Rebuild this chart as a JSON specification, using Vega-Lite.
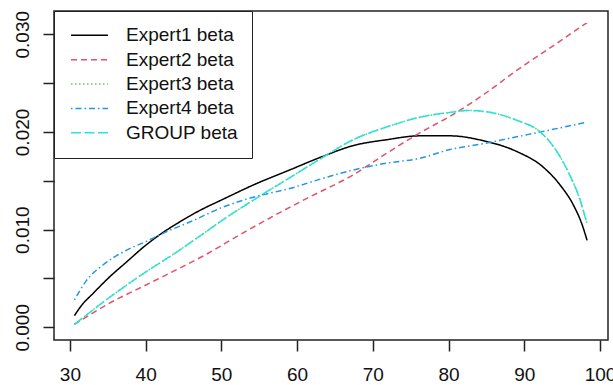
{
  "$schema": "https://vega.github.io/schema/vega-lite/v6.json",
  "width": 554,
  "height": 329,
  "autosize": {"type": "none"},
  "padding": {"left": 54, "top": 11, "right": 5, "bottom": 45},
  "background": "white",
  "config": {
    "view": {"stroke": "#222", "strokeWidth": 1.5},
    "font": "Liberation Sans",
    "axis": {"grid": false, "domain": false, "tickSize": 11, "tickColor": "#222", "tickWidth": 1.5, "labelFont": "Liberation Sans", "labelFontSize": 19, "labelColor": "#111", "title": null},
    "legend": {
      "orient": "none", "legendX": 0, "legendY": 0,
      "fillColor": "white", "strokeColor": "#222", "padding": 14,
      "symbolType": "stroke", "symbolSize": 1369, "symbolStrokeWidth": 1.5, "symbolOffset": 2,
      "clipHeight": 20.5, "rowPadding": 3.4,
      "labelFont": "Liberation Sans", "labelFontSize": 19, "labelColor": "#111",
      "labelOffset": 17, "labelLimit": 300
    }
  },
  "data": {"values": [
    {"series": "Expert1 beta", "x": 30.6, "y": 0.0012},
    {"series": "Expert1 beta", "x": 31.5, "y": 0.0022},
    {"series": "Expert1 beta", "x": 33.1, "y": 0.0035},
    {"series": "Expert1 beta", "x": 35.3, "y": 0.0052},
    {"series": "Expert1 beta", "x": 37.5, "y": 0.0067},
    {"series": "Expert1 beta", "x": 39.7, "y": 0.0082},
    {"series": "Expert1 beta", "x": 41.9, "y": 0.0095},
    {"series": "Expert1 beta", "x": 44.1, "y": 0.0106},
    {"series": "Expert1 beta", "x": 47.0, "y": 0.0119},
    {"series": "Expert1 beta", "x": 50.2, "y": 0.0131},
    {"series": "Expert1 beta", "x": 54.6, "y": 0.0147},
    {"series": "Expert1 beta", "x": 59.0, "y": 0.0161},
    {"series": "Expert1 beta", "x": 63.4, "y": 0.0175},
    {"series": "Expert1 beta", "x": 67.4, "y": 0.0186},
    {"series": "Expert1 beta", "x": 71.8, "y": 0.0192},
    {"series": "Expert1 beta", "x": 76.2, "y": 0.0196},
    {"series": "Expert1 beta", "x": 80.2, "y": 0.0196},
    {"series": "Expert1 beta", "x": 84.6, "y": 0.0191},
    {"series": "Expert1 beta", "x": 89.0, "y": 0.0180},
    {"series": "Expert1 beta", "x": 92.5, "y": 0.0164},
    {"series": "Expert1 beta", "x": 94.7, "y": 0.0146},
    {"series": "Expert1 beta", "x": 96.5, "y": 0.0125},
    {"series": "Expert1 beta", "x": 97.6, "y": 0.0106},
    {"series": "Expert1 beta", "x": 98.3, "y": 0.0089},

    {"series": "Expert2 beta", "x": 30.6, "y": 0.0003},
    {"series": "Expert2 beta", "x": 35.3, "y": 0.0025},
    {"series": "Expert2 beta", "x": 39.7, "y": 0.0042},
    {"series": "Expert2 beta", "x": 44.1, "y": 0.0059},
    {"series": "Expert2 beta", "x": 47.6, "y": 0.0073},
    {"series": "Expert2 beta", "x": 52.5, "y": 0.0095},
    {"series": "Expert2 beta", "x": 56.9, "y": 0.0114},
    {"series": "Expert2 beta", "x": 61.3, "y": 0.0132},
    {"series": "Expert2 beta", "x": 67.4, "y": 0.0156},
    {"series": "Expert2 beta", "x": 71.8, "y": 0.0178},
    {"series": "Expert2 beta", "x": 76.2, "y": 0.0199},
    {"series": "Expert2 beta", "x": 80.4, "y": 0.0217},
    {"series": "Expert2 beta", "x": 84.6, "y": 0.0238},
    {"series": "Expert2 beta", "x": 89.0, "y": 0.0263},
    {"series": "Expert2 beta", "x": 93.4, "y": 0.0286},
    {"series": "Expert2 beta", "x": 98.3, "y": 0.0312},

    {"series": "Expert3 beta", "x": 30.6, "y": 0.0003},
    {"series": "Expert3 beta", "x": 35.3, "y": 0.0031},
    {"series": "Expert3 beta", "x": 39.7, "y": 0.0055},
    {"series": "Expert3 beta", "x": 44.1, "y": 0.0077},
    {"series": "Expert3 beta", "x": 46.9, "y": 0.0092},
    {"series": "Expert3 beta", "x": 50.2, "y": 0.0110},
    {"series": "Expert3 beta", "x": 54.6, "y": 0.0132},
    {"series": "Expert3 beta", "x": 59.0, "y": 0.0153},
    {"series": "Expert3 beta", "x": 63.2, "y": 0.0173},
    {"series": "Expert3 beta", "x": 67.4, "y": 0.0192},
    {"series": "Expert3 beta", "x": 71.8, "y": 0.0205},
    {"series": "Expert3 beta", "x": 76.2, "y": 0.0215},
    {"series": "Expert3 beta", "x": 80.2, "y": 0.0220},
    {"series": "Expert3 beta", "x": 82.4, "y": 0.0222},
    {"series": "Expert3 beta", "x": 84.6, "y": 0.0221},
    {"series": "Expert3 beta", "x": 89.0, "y": 0.0212},
    {"series": "Expert3 beta", "x": 92.1, "y": 0.0200},
    {"series": "Expert3 beta", "x": 94.3, "y": 0.0180},
    {"series": "Expert3 beta", "x": 96.0, "y": 0.0156},
    {"series": "Expert3 beta", "x": 97.3, "y": 0.0132},
    {"series": "Expert3 beta", "x": 98.3, "y": 0.0106},

    {"series": "Expert4 beta", "x": 30.6, "y": 0.0028},
    {"series": "Expert4 beta", "x": 32.2, "y": 0.0048},
    {"series": "Expert4 beta", "x": 34.4, "y": 0.0064},
    {"series": "Expert4 beta", "x": 37.5, "y": 0.0079},
    {"series": "Expert4 beta", "x": 40.1, "y": 0.0088},
    {"series": "Expert4 beta", "x": 42.8, "y": 0.0098},
    {"series": "Expert4 beta", "x": 45.9, "y": 0.0108},
    {"series": "Expert4 beta", "x": 50.2, "y": 0.0123},
    {"series": "Expert4 beta", "x": 54.6, "y": 0.0134},
    {"series": "Expert4 beta", "x": 59.0, "y": 0.0142},
    {"series": "Expert4 beta", "x": 63.2, "y": 0.0152},
    {"series": "Expert4 beta", "x": 67.4, "y": 0.0161},
    {"series": "Expert4 beta", "x": 71.8, "y": 0.0168},
    {"series": "Expert4 beta", "x": 76.2, "y": 0.0173},
    {"series": "Expert4 beta", "x": 80.2, "y": 0.0182},
    {"series": "Expert4 beta", "x": 84.6, "y": 0.0188},
    {"series": "Expert4 beta", "x": 89.0, "y": 0.0195},
    {"series": "Expert4 beta", "x": 93.4, "y": 0.0202},
    {"series": "Expert4 beta", "x": 98.3, "y": 0.0210},

    {"series": "GROUP beta", "x": 30.6, "y": 0.0003},
    {"series": "GROUP beta", "x": 35.3, "y": 0.0031},
    {"series": "GROUP beta", "x": 39.7, "y": 0.0055},
    {"series": "GROUP beta", "x": 44.1, "y": 0.0077},
    {"series": "GROUP beta", "x": 46.9, "y": 0.0092},
    {"series": "GROUP beta", "x": 50.2, "y": 0.0110},
    {"series": "GROUP beta", "x": 54.6, "y": 0.0132},
    {"series": "GROUP beta", "x": 59.0, "y": 0.0153},
    {"series": "GROUP beta", "x": 63.2, "y": 0.0173},
    {"series": "GROUP beta", "x": 67.4, "y": 0.0192},
    {"series": "GROUP beta", "x": 71.8, "y": 0.0205},
    {"series": "GROUP beta", "x": 76.2, "y": 0.0215},
    {"series": "GROUP beta", "x": 80.2, "y": 0.0220},
    {"series": "GROUP beta", "x": 82.4, "y": 0.0222},
    {"series": "GROUP beta", "x": 84.6, "y": 0.0221},
    {"series": "GROUP beta", "x": 89.0, "y": 0.0212},
    {"series": "GROUP beta", "x": 92.1, "y": 0.0200},
    {"series": "GROUP beta", "x": 94.3, "y": 0.0180},
    {"series": "GROUP beta", "x": 96.0, "y": 0.0156},
    {"series": "GROUP beta", "x": 97.3, "y": 0.0132},
    {"series": "GROUP beta", "x": 98.3, "y": 0.0106}
  ]},
  "mark": {"type": "line", "strokeWidth": 1.5, "interpolate": "monotone"},
  "encoding": {
    "x": {
      "field": "x", "type": "quantitative",
      "scale": {"domain": [27.9, 101.06], "nice": false, "zero": false},
      "axis": {"values": [30, 40, 50, 60, 70, 80, 90, 100], "labelPadding": 14, "labelFlush": false, "labelOverlap": false}
    },
    "y": {
      "field": "y", "type": "quantitative",
      "scale": {"domain": [-0.0013, 0.03238], "nice": false, "zero": false},
      "axis": {
        "values": [0, 0.005, 0.01, 0.015, 0.02, 0.025, 0.03],
        "labelExpr": "round(datum.value*1000) % 10 == 0 ? format(datum.value, '.3f') : ''",
        "labelAngle": -90, "labelAlign": "center", "labelBaseline": "bottom",
        "labelPadding": 11, "labelFlush": false, "labelOverlap": false
      }
    },
    "color": {
      "field": "series", "type": "nominal",
      "scale": {
        "domain": ["Expert1 beta", "Expert2 beta", "Expert3 beta", "Expert4 beta", "GROUP beta"],
        "range": ["#000000", "#DF536B", "#61D04F", "#2297E6", "#28E2E5"]
      },
      "legend": {"title": null}
    },
    "strokeDash": {
      "field": "series", "type": "nominal",
      "scale": {
        "domain": ["Expert1 beta", "Expert2 beta", "Expert3 beta", "Expert4 beta", "GROUP beta"],
        "range": [[1, 0], [6, 4], [1.5, 2.5], [1.5, 3, 6, 3], [10, 3.5]]
      },
      "legend": {"title": null}
    }
  }
}
